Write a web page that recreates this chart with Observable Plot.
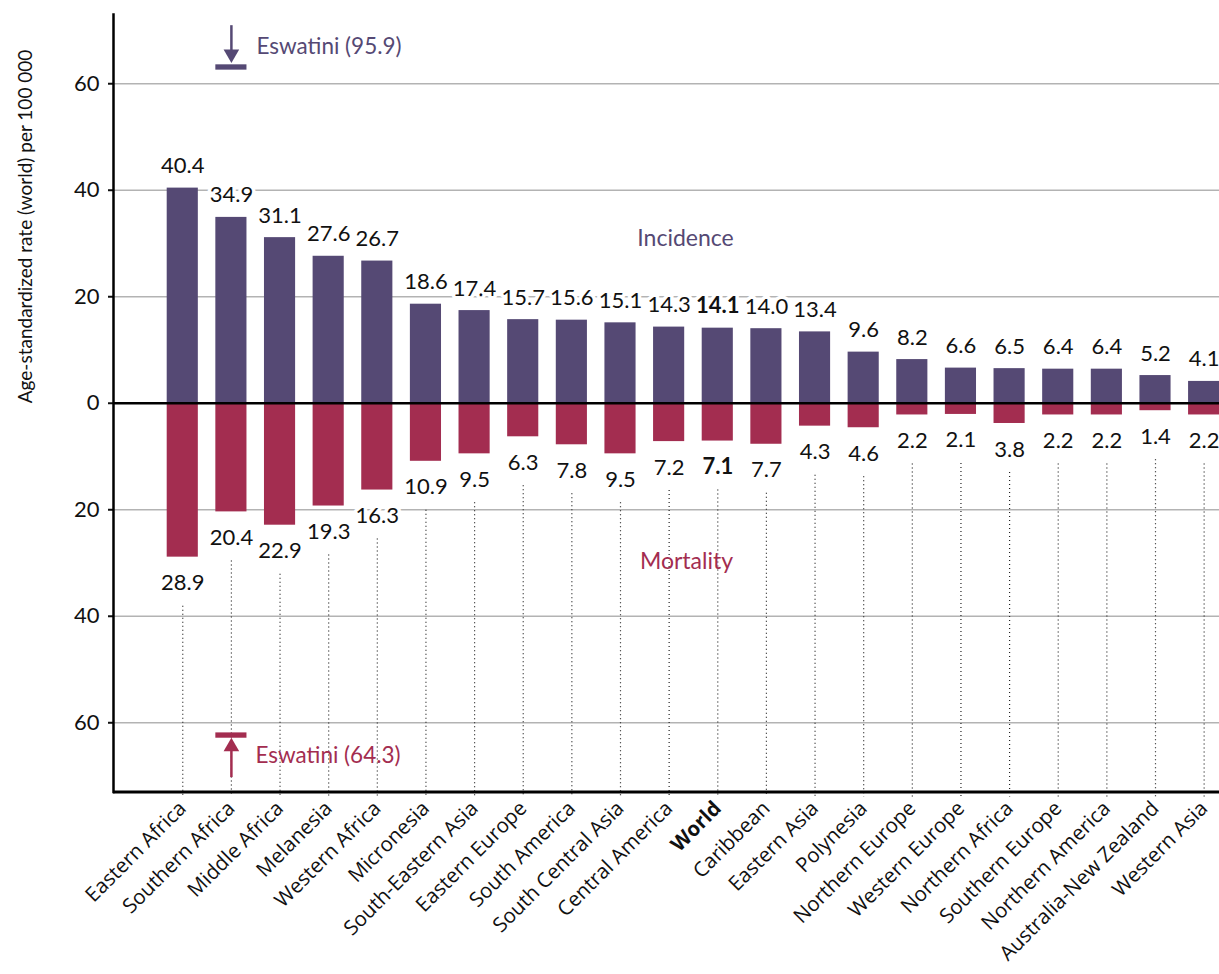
<!DOCTYPE html>
<html>
<head>
<meta charset="utf-8">
<script src="https://cdn.jsdelivr.net/npm/d3@7"></script>
<script src="https://cdn.jsdelivr.net/npm/@observablehq/plot@0.6"></script>
<style>
  html, body { margin: 0; padding: 0; background: #fff; }
  #chart svg { display: block; }
  #chart svg g[aria-label="x-axis tick label"] text { font-family: "Open Sans", sans-serif; }
</style>
</head>
<body>
<div id="chart"></div>
<script>
const regions = ["Eastern Africa", "Southern Africa", "Middle Africa", "Melanesia", "Western Africa", "Micronesia", "South-Eastern Asia", "Eastern Europe", "South America", "South Central Asia", "Central America", "World", "Caribbean", "Eastern Asia", "Polynesia", "Northern Europe", "Western Europe", "Northern Africa", "Southern Europe", "Northern America", "Australia-New Zealand", "Western Asia"];
const incidence = [40.4, 34.9, 31.1, 27.6, 26.7, 18.6, 17.4, 15.7, 15.6, 15.1, 14.3, 14.1, 14.0, 13.4, 9.6, 8.2, 6.6, 6.5, 6.4, 6.4, 5.2, 4.1];
const mortality = [28.9, 20.4, 22.9, 19.3, 16.3, 10.9, 9.5, 6.3, 7.8, 9.5, 7.2, 7.1, 7.7, 4.3, 4.6, 2.2, 2.1, 3.8, 2.2, 2.2, 1.4, 2.2];
const yTicks = [-60, -40, -20, 0, 20, 40, 60];
const highlight = "World";
const outlierRegion = "Southern Africa";
const outlierName = "Eswatini";
const outlierIncidence = 95.9;
const outlierMortality = 64.3;
const yTitle = "Age-standardized rate (world) per 100 000";

const purple = "#554974";
const red = "#a32d50";
const yMax = 73;

const data = regions.map((r, i) => ({region: r, inc: incidence[i], mort: mortality[i]}));
const normal = data.filter(d => d.region !== highlight);
const bold = data.filter(d => d.region === highlight);
const numFont = "Lato, sans-serif";
const catFont = "Open Sans, sans-serif";

function valueLabels(rows, sign, dy, weight) {
  return Plot.text(rows, {
    x: "region",
    y: d => sign > 0 ? d.inc : -d.mort,
    text: d => (sign > 0 ? d.inc : d.mort).toFixed(1),
    dy, fontSize: 22, fontFamily: numFont, fontWeight: weight,
    fill: "#111", stroke: "white", strokeWidth: 7, lineAnchor: "middle"
  });
}

function catAxis(ticks, weight) {
  return Plot.axisX(ticks, {tickRotate: -45, tickSize: 0, tickPadding: 13, fontWeight: weight,
    fontSize: 20.5, fontFamily: catFont, label: null, fill: "#111"});
}

const chart = Plot.plot({
  width: 1219,
  height: 974,
  marginTop: 14,
  marginBottom: 182.5,
  marginLeft: 113,
  marginRight: 0,
  style: {background: "white"},
  x: {type: "band", domain: regions, range: [166.7, 1219.2], paddingInner: 0.36, paddingOuter: 0, round: false},
  y: {domain: [-yMax, yMax]},
  marks: [
    Plot.ruleY(yTicks.filter(t => t !== 0), {stroke: "#b3b3b3", strokeWidth: 1.5}),
    Plot.barY(data, {x: "region", y: "inc", fill: purple}),
    Plot.barY(data, {x: "region", y: d => -d.mort, fill: red}),
    Plot.ruleY([0], {stroke: "#000", strokeWidth: 2.5}),
    Plot.ruleX(data, {x: "region", y1: d => -d.mort, y2: -yMax, insetTop: 49, insetBottom: -5,
      stroke: "#222", strokeWidth: 1.2, strokeDasharray: "1,3"}),
    valueLabels(normal, 1, -22, "normal"),
    valueLabels(bold, 1, -22, "bold"),
    valueLabels(normal, -1, 26, "normal"),
    valueLabels(bold, -1, 26, "bold"),
    // series titles
    Plot.text([31], {y: d => d, text: () => "Incidence", frameAnchor: "middle", dx: 19,
      fontSize: 23, fill: purple, fontFamily: numFont}),
    Plot.text([-29.8], {y: d => d, text: () => "Mortality", frameAnchor: "middle", dx: 20,
      fontSize: 23, fill: red, fontFamily: numFont}),
    // outlier markers (incidence, above)
    Plot.barY([outlierRegion], {x: d => d, y1: yMax - 10.45, y2: yMax - 9.45, fill: purple}),
    Plot.ruleX([outlierRegion], {x: d => d, y1: yMax - 2.1, y2: yMax - 7.6, stroke: purple, strokeWidth: 2.5}),
    Plot.dot([outlierRegion], {x: d => d, y: yMax - 7.4, symbol: "triangle", rotate: 180, r: 5.8, fill: purple, stroke: null}),
    Plot.text([outlierRegion], {x: d => d, y: yMax - 6.1, text: () => `${outlierName} (${outlierIncidence.toFixed(1)})`,
      textAnchor: "start", dx: 25, fontSize: 22.5, fill: purple, fontFamily: numFont}),
    // outlier markers (mortality, below)
    Plot.barY([outlierRegion], {x: d => d, y1: -(yMax - 10.1), y2: -(yMax - 11.1), fill: red}),
    Plot.ruleX([outlierRegion], {x: d => d, y1: -(yMax - 2.7), y2: -(yMax - 8.8), stroke: red, strokeWidth: 2.5}),
    Plot.dot([outlierRegion], {x: d => d, y: -(yMax - 8.5), symbol: "triangle", r: 5.8, fill: red, stroke: null}),
    Plot.text([outlierRegion], {x: d => d, y: -(yMax - 6.8), text: () => `${outlierName} (${outlierMortality.toFixed(1)})`,
      textAnchor: "start", dx: 24, fontSize: 22.5, fill: red, fontFamily: numFont}),
    // axes
    Plot.axisY({ticks: yTicks, tickFormat: d => Math.abs(d), tickSize: 5, tickPadding: 9,
      fontSize: 22, label: null, strokeWidth: 2, fontFamily: numFont, color: "#111"}),
    Plot.text([yTitle], {frameAnchor: "left", rotate: -90, dx: -88, fontSize: 19, fill: "#111", fontFamily: numFont}),
    catAxis(regions.filter(r => r !== highlight), "normal"),
    catAxis([highlight], "bold"),
    Plot.ruleY([-yMax], {stroke: "#000", strokeWidth: 3}),
    Plot.frame({anchor: "left", stroke: "#000", strokeWidth: 2.5})
  ]
});
document.getElementById("chart").appendChild(chart);
</script>
</body>
</html>
